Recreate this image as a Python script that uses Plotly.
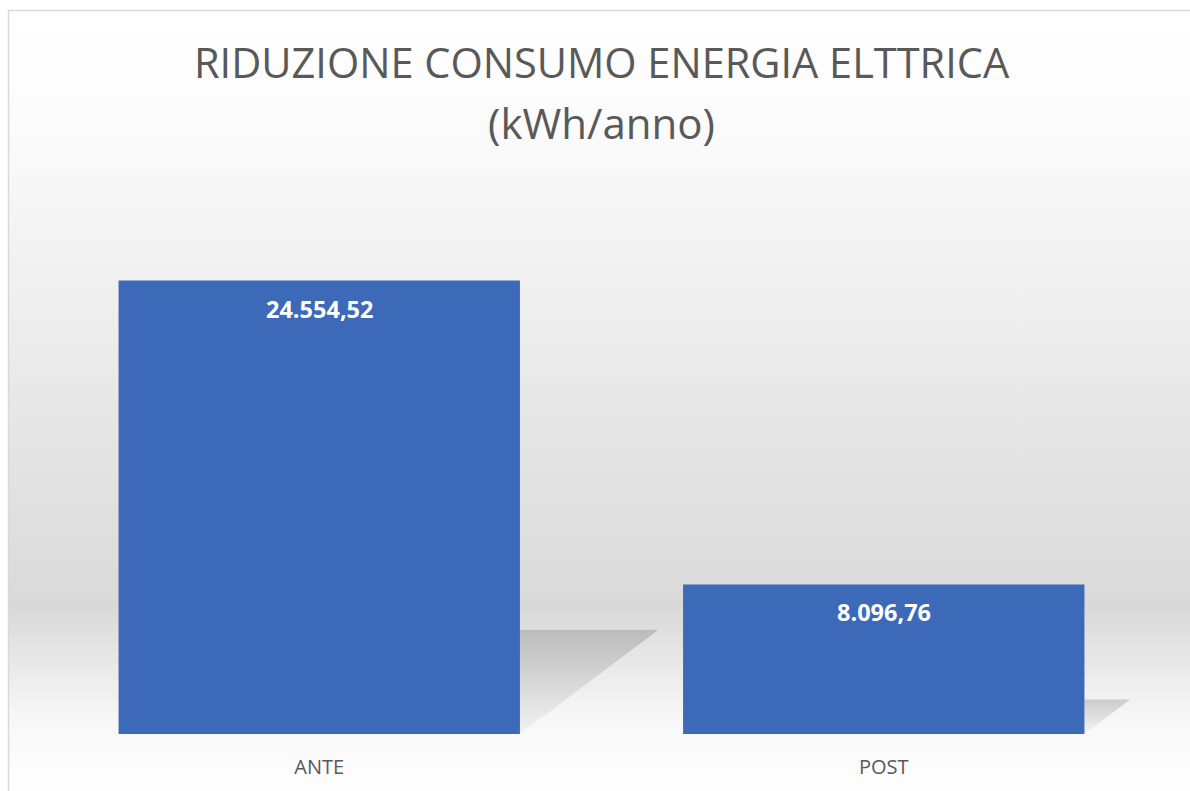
import base64
import plotly.graph_objects as go

# ---- data ----
categories = ["ANTE", "POST"]
values = [24554.52, 8096.76]
labels = ["24.554,52", "8.096,76"]
title_line1 = "RIDUZIONE CONSUMO ENERGIA ELTTRICA"
title_line2 = "(kWh/anno)"

W, H = 1190, 791
ML, MR, MT, MB = 37, 24, 180, 57
PW, PH = W - ML - MR, H - MT - MB


def px_x(p):
    return (p - ML) / PW


def px_y(p):
    return (H - MB - p) / PH


bar_color = "#3c69b8"
text_gray = "#595959"
bar_width = 0.711

fig = go.Figure()

# perspective shadows (visible triangle to the right of each bar), derived from values
for i, v in enumerate(values):
    right = i + bar_width / 2
    dx = v * 1.0e-5
    sh = v * 0.23
    fig.add_trace(go.Scatter(
        x=[right, right + dx, right, right],
        y=[0, sh, sh, 0],
        mode="lines", line=dict(width=0),
        fill="toself",
        fillgradient=dict(type="vertical", start=0, stop=sh,
                          colorscale=[[0, "rgba(0,0,0,0.03)"], [1, "rgba(0,0,0,0.16)"]]),
        hoverinfo="skip", showlegend=False,
    ))

fig.add_trace(go.Bar(
    x=list(range(len(categories))), y=values,
    width=bar_width,
    marker=dict(color=bar_color, line=dict(width=0)),
    hoverinfo="skip", showlegend=False,
))

# data labels
for i, (v, t) in enumerate(zip(values, labels)):
    fig.add_annotation(x=i, y=v, xref="x", yref="y", text=f"<b>{t}</b>",
                       showarrow=False, yanchor="top", yshift=-10,
                       font=dict(family="Open Sans", size=23.5, color="white"))

# title lines
fig.add_annotation(x=0.5, y=px_y(62), xref="paper", yref="paper", text=title_line1,
                   showarrow=False, yanchor="middle", xanchor="center",
                   font=dict(family="Open Sans", size=41.5, color=text_gray))
fig.add_annotation(x=0.5, y=px_y(122), xref="paper", yref="paper", text=title_line2,
                   showarrow=False, yanchor="middle", xanchor="center",
                   font=dict(family="Open Sans", size=42, color=text_gray))

# background gradient
svg = ('<svg xmlns="http://www.w3.org/2000/svg" width="100" height="100" preserveAspectRatio="none">'
       '<defs><linearGradient id="g" x1="0" y1="0" x2="0" y2="1">'
       '<stop offset="0" stop-color="#ffffff"/>'
       '<stop offset="0.15" stop-color="#fbfbfb"/>'
       '<stop offset="0.76" stop-color="#d9d9d9"/>'
       '<stop offset="0.90" stop-color="#f7f7f7"/>'
       '<stop offset="1" stop-color="#ffffff"/>'
       '</linearGradient></defs>'
       '<rect width="100" height="100" fill="url(#g)"/></svg>')
src = "data:image/svg+xml;base64," + base64.b64encode(svg.encode()).decode()
fig.add_layout_image(dict(source=src, xref="paper", yref="paper",
                          x=px_x(8), y=px_y(10), sizex=px_x(W + 5) - px_x(8),
                          sizey=px_y(10) - px_y(H + 5), xanchor="left", yanchor="top",
                          sizing="stretch", layer="below"))

# chart border
fig.add_shape(type="rect", xref="paper", yref="paper",
              x0=px_x(8.5), y0=px_y(10.5), x1=px_x(W + 10), y1=px_y(H + 10),
              line=dict(color="#d9d9d9", width=1.5), fillcolor="rgba(0,0,0,0)", layer="above")

fig.update_layout(
    width=W, height=H,
    margin=dict(l=ML, r=MR, t=MT, b=MB),
    paper_bgcolor="white", plot_bgcolor="rgba(0,0,0,0)",
    showlegend=False,
    xaxis=dict(tickmode="array", tickvals=list(range(len(categories))), ticktext=categories,
               range=[-0.5, len(categories) - 0.5], showgrid=False, zeroline=False,
               showline=False, ticks="", ticklabelstandoff=19,
               tickfont=dict(family="Open Sans", size=20, color=text_gray), fixedrange=True),
    yaxis=dict(range=[0, 30000], visible=False, showgrid=False, zeroline=False, fixedrange=True),
)

fig.write_html("out.html", config={"displayModeBar": False},
               post_script="document.body.style.margin='0';document.body.style.overflow='hidden';")
